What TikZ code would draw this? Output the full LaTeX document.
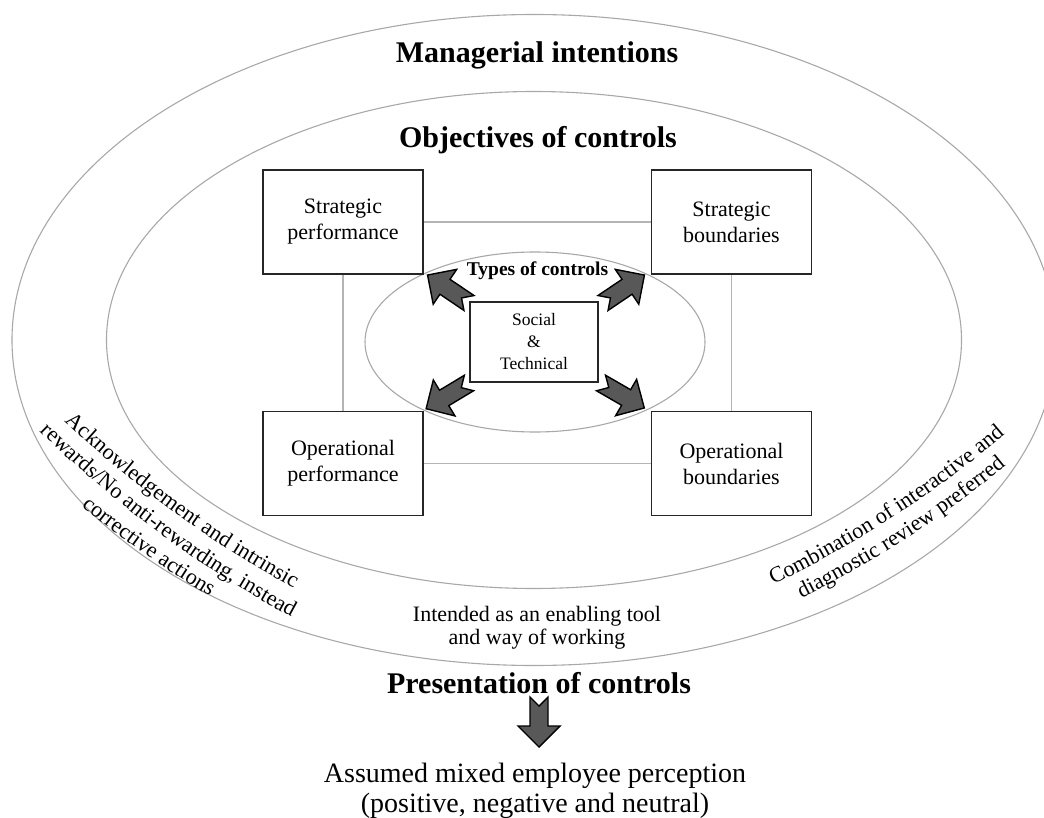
\documentclass[tikz,border=0pt]{standalone}
\usepackage{fontspec}
\setmainfont{Liberation Serif}
\usetikzlibrary{calc,decorations.text}

\definecolor{ringgray}{HTML}{A8A8A8}
\definecolor{linkgray}{HTML}{B4B4B4}
\definecolor{arrowfill}{HTML}{585858}
\newcommand\fsz[2]{\fontsize{#1}{#2}\selectfont}

\tikzset{
  ring/.style={draw=ringgray, line width=1.1pt},
  objbox/.style={draw=black!85, line width=1.6pt, minimum width=160pt,
    minimum height=104pt, align=center, inner sep=0pt, font=\fsz{22}{26}},
  corebox/.style={draw=black!85, line width=1.6pt, minimum width=128pt,
    minimum height=80pt, align=center, inner sep=0pt, font=\fsz{17.5}{22}},
  link/.style={draw=linkgray, line width=1.4pt},
  heading/.style={font=\bfseries\fsz{30}{34}},
  plain/.style={align=center, inner sep=0pt},
  blockarr/.pic={
    \filldraw[fill=arrowfill, draw=black, line width=1.4pt, line join=miter]
      (0,9) -- (29,9) -- (29,21) -- (50,0) -- (29,-21) -- (29,-9)
      -- (0,-9) -- (9,0) -- cycle;
  },
  % text set along a gently bent baseline
  arctext/.style={decorate, decoration={text along path, text align=center,
    text format delimiters={|}{|}, text={|\fsz{22.2}{26}|#1}}},
}

% circular baseline: #1 midpoint, #2 direction of travel, #3 radius, #4 half length
\newcommand\bentline[4]{%
  ($#1+({#2+90}:#3pt)+({#2-90-#4/#3*57.2958}:#3pt)$)
  arc[start angle={#2-90-#4/#3*57.2958}, end angle={#2-90+#4/#3*57.2958}, radius=#3pt]}

\begin{document}
\begin{tikzpicture}[x=1pt, y=1pt]
\useasboundingbox (0,0) rectangle (1044,-818);
\clip (0,0) rectangle (1044,-818);

\coordinate (C) at (534,-340);
\coordinate (Cs) at (535,-342);

% nested rings
\draw[ring] (C) ellipse [x radius=522pt, y radius=325.5pt];
\draw[ring] (C) ellipse [x radius=427.5pt, y radius=248.5pt];
\draw[ring] (Cs) ellipse [x radius=170pt, y radius=90pt];

% ring titles
\node[heading] (mi) at (537,-55) {Managerial intentions};
\node[heading] (oc) at (538,-140) {Objectives of controls};

% objective boxes
\node[objbox] (sp) at (343,-222) {Strategic\\performance};
\node[objbox] (sb) at (731.5,-222) {Strategic\\boundaries};
\node[objbox] (op) at (343,-463.5) {Operational\\performance};
\node[objbox] (ob) at (731.5,-463.5) {Operational\\boundaries};

\draw[link] (sp) -- (sb);
\draw[link] (op) -- (ob);
\draw[link] (sp) -- (op);
\draw[link] (sb) -- (ob);

% types of controls
\node[plain, font=\bfseries\fsz{19.5}{22}] (tc) at (537.5,-271) {Types of controls};
\node[corebox] (st) at (534,-342) {Social\\\&\\Technical};

\coordinate (anw) at (469,-303);
\coordinate (ane) at (603,-303);
\coordinate (asw) at (469,-383);
\coordinate (ase) at (601,-383);
\pic[rotate=146] at (anw) {blockarr};
\pic[rotate=34] at (ane) {blockarr};
\pic[rotate=211] at (asw) {blockarr};
\pic[rotate=-30] at (ase) {blockarr};

% texts in the outer ring, left side
\path[arctext={Acknowledgement and intrinsic}] \bentline{(174,-512.4)}{-36}{1100}{200};
\path[arctext={rewards/No anti-rewarding, instead}] \bentline{(159,-533)}{-36.5}{1100}{200};
\path[arctext={corrective actions}] \bentline{(144,-553.6)}{-35}{1100}{200};

% texts in the outer ring, right side
\path[arctext={Combination of interactive and}] \bentline{(893.8,-516.9)}{33}{1100}{200};
\path[arctext={diagnostic review preferred}] \bentline{(907.4,-537.9)}{33}{1100}{200};

% bottom of the outer ring
\node[plain, font=\fsz{22}{23}] (it) at (537,-628) {Intended as an enabling tool\\and way of working};

% presentation and outcome
\node[heading] (pc) at (539,-683) {Presentation of controls};
\coordinate (adn) at (539,-697);
\pic[rotate=-90] at (adn) {blockarr};
\node[plain, font=\fsz{28}{30}] (pe) at (535,-791) {Assumed mixed employee perception\\(positive, negative and neutral)};
\end{tikzpicture}
\end{document}
